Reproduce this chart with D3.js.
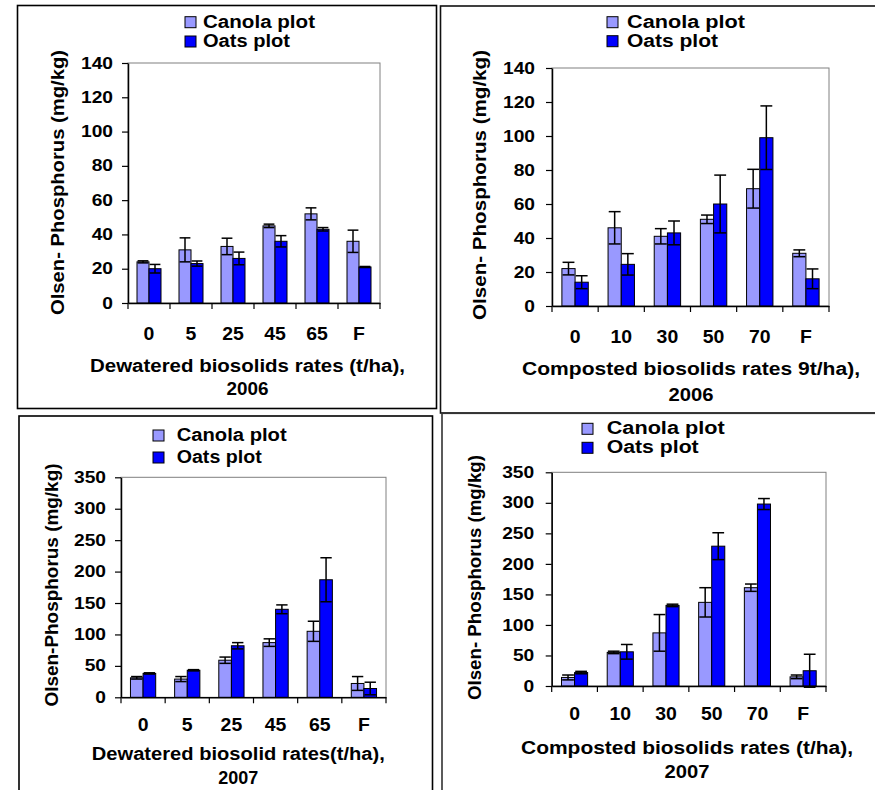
<!DOCTYPE html>
<html>
<head>
<meta charset="utf-8">
<script src="https://cdn.jsdelivr.net/npm/d3@7"></script>
<style>
  body { margin: 0; background: #fff; }
  svg { display: block; font-family: "Liberation Sans", Arial, sans-serif; font-weight: bold; }
</style>
</head>
<body>
<svg id="chart" width="875" height="790"></svg>
<script>
// DATA
const dewateredRates = ["0", "5", "25", "45", "65", "F"];
const compostedRates = ["0", "10", "30", "50", "70", "F"];
const seriesNames = ["Canola plot", "Oats plot"];

// dewatered 2006
const dew06Canola    = [24, 31, 33, 45, 52, 36];
const dew06CanolaErr = [0.6, 7, 4.8, 1, 3.5, 6.5];
const dew06Oats      = [20, 23, 26, 36, 43, 21];
const dew06OatsErr   = [2.5, 1.5, 3.7, 3.3, 1, 0.3];

// composted 2006
const com06Canola    = [22, 46, 41, 51, 69, 31];
const com06CanolaErr = [3.7, 9.5, 4.5, 2.5, 11.4, 2];
const com06Oats      = [14, 24.5, 43, 60, 99, 16];
const com06OatsErr   = [3.8, 6.3, 7, 17, 18.7, 5.8];

// dewatered 2007
const dew07Canola    = [31, 29, 59, 87, 105, 22];
const dew07CanolaErr = [2, 4, 5, 6, 16, 11];
const dew07Oats      = [38, 43, 82, 140, 187, 14];
const dew07OatsErr   = [1, 1, 5, 7, 35, 10];

// composted 2007
const com07Canola    = [14, 55, 87, 137, 161, 15];
const com07CanolaErr = [4, 2, 30, 24, 6, 3];
const com07Oats      = [22, 56, 132, 229, 298, 25];
const com07OatsErr   = [2, 12, 2, 22, 9, 27];

const colors = ["#9999ff", "#0000ff"];

// LAYOUT
const panels = [
  { cats: dewateredRates, vals: [dew06Canola, dew06Oats], errs: [dew06CanolaErr, dew06OatsErr],
    yMax: 140, yStep: 20, left: 128, right: 380, top: 63, bottom: 303, yPad: 9, xPad: 24,
    yTitle: "Olsen- Phosphorus (mg/kg)", yT: [64, 182.5, 265],
    xTitle: ["Dewatered biosolids rates (t/ha),", "2006"], xT: [247.5, 371.7, 315, 395, 42],
    leg: [185, 203, 27.7, 47, 112, 87] },
  { cats: compostedRates, vals: [com06Canola, com06Oats], errs: [com06CanolaErr, com06OatsErr],
    yMax: 140, yStep: 20, left: 552, right: 829, top: 68, bottom: 306, yPad: 11, xPad: 24.5,
    yTitle: "Olsen- Phosphorus (mg/kg)", yT: [485.5, 185, 270],
    xTitle: ["Composted biosolids rates 9t/ha),", "2006"], xT: [691, 375, 338, 401, 45],
    leg: [607, 627, 27.7, 46.7, 118, 91] },
  { cats: dewateredRates, vals: [dew07Canola, dew07Oats], errs: [dew07CanolaErr, dew07OatsErr],
    yMax: 350, yStep: 50, left: 121, right: 386, top: 477.3, bottom: 697.3, yPad: 9, xPad: 20.6,
    yTitle: "Olsen-Phosphorus (mg/kg)", yT: [58, 585, 243],
    xTitle: ["Dewatered biosolid rates(t/ha),", "2007"], xT: [238.3, 760, 293, 784.3, 40],
    leg: [153, 176.7, 441, 463, 110, 85] },
  { cats: compostedRates, vals: [com07Canola, com07Oats], errs: [com07CanolaErr, com07OatsErr],
    yMax: 350, yStep: 50, left: 551.7, right: 826, top: 472.3, bottom: 686, yPad: 11.5, xPad: 21.2,
    yTitle: "Olsen- Phosphorus (mg/kg)", yT: [481, 577.5, 245],
    xTitle: ["Composted biosolids rates (t/ha),", "2007"], xT: [687, 754.3, 332, 777.7, 45],
    leg: [582, 606.7, 434.3, 453.3, 118, 92] }
];

const svg = d3.select("#chart");

// panel frames
const frames = [
  [17.5, 5.5, 436.5, 408.5, "#000"],
  [440.5, 6, 880, 413, "#111"],
  [19, 416, 432.5, 800, "#000"],
  [442, 413.3, 880, 800, "#333"]
];
frames.forEach(f => {
  svg.append("rect")
    .attr("x", f[0]).attr("y", f[1])
    .attr("width", f[2] - f[0]).attr("height", f[3] - f[1])
    .attr("fill", "none").attr("stroke", f[4]).attr("stroke-width", 1.6);
});

function label(g, str, x, y, len, size, rot) {
  return g.append("text")
    .attr("transform", "translate(" + x + "," + y + ")" + (rot ? " rotate(" + rot + ")" : ""))
    .attr("text-anchor", "middle")
    .attr("font-size", size)
    .attr("textLength", len)
    .attr("lengthAdjust", "spacingAndGlyphs")
    .text(str);
}

function drawPanel(p) {
  const g = svg.append("g");
  const x = d3.scaleBand().domain(p.cats).range([p.left, p.right]);
  const y = d3.scaleLinear().domain([0, p.yMax]).range([p.bottom, p.top]);
  const w = x.bandwidth() / 3.5;

  // plot area frame
  g.append("rect")
    .attr("x", p.left).attr("y", p.top)
    .attr("width", p.right - p.left).attr("height", p.bottom - p.top)
    .attr("fill", "none").attr("stroke", "#808080").attr("stroke-width", 1);

  // bars
  p.vals.forEach((vals, s) => {
    const rows = p.cats.map((c, i) => ({ c: c, v: vals[i], e: p.errs[s][i] }));
    const off = s === 0 ? -w : 0;
    g.append("g").selectAll("rect").data(rows).enter().append("rect")
      .attr("x", d => x(d.c) + x.bandwidth() / 2 + off)
      .attr("y", d => y(d.v))
      .attr("width", w)
      .attr("height", d => y(0) - y(d.v))
      .attr("fill", colors[s])
      .attr("stroke", "#000").attr("stroke-width", 1);

    const eb = g.append("g").attr("stroke", "#000").attr("stroke-width", 1.5);
    rows.forEach(d => {
      const cx = x(d.c) + x.bandwidth() / 2 + off + w / 2;
      eb.append("line").attr("x1", cx).attr("x2", cx).attr("y1", y(d.v - d.e)).attr("y2", y(d.v + d.e));
      [d.v - d.e, d.v + d.e].forEach(v => {
        eb.append("line").attr("x1", cx - w * 0.45).attr("x2", cx + w * 0.45).attr("y1", y(v)).attr("y2", y(v));
      });
    });
  });

  // y axis
  const sxY = 1.2;
  g.append("g")
    .attr("transform", "translate(" + p.left + ",0)")
    .call(d3.axisLeft(y).tickValues(d3.range(0, p.yMax + 1, p.yStep)).tickSize(6).tickSizeOuter(0).tickPadding(p.yPad))
    .call(a => {
      a.attr("font-family", null).attr("font-size", null);
      a.select(".domain").attr("stroke", "#000").attr("stroke-width", 1.5);
      a.selectAll(".tick line").attr("stroke", "#000").attr("stroke-width", 1.2);
      a.selectAll(".tick text").attr("fill", "#000").attr("font-size", 16)
        .attr("x", -(6 + p.yPad) / sxY).attr("transform", "scale(" + sxY + ",1)");
    });

  // x axis
  const sxX = 1.08;
  g.append("g")
    .attr("transform", "translate(0," + p.bottom + ")")
    .call(d3.axisBottom(x).tickSize(0).tickSizeOuter(0).tickPadding(p.xPad))
    .call(a => {
      a.attr("font-family", null).attr("font-size", null);
      a.select(".domain").attr("stroke", "#000").attr("stroke-width", 1.5);
      a.selectAll(".tick text").attr("fill", "#000").attr("font-size", 18).attr("transform", "scale(" + sxX + ",1)");
    });
  const bounds = p.cats.map(c => x(c)).concat([x.range()[1]]);
  g.append("g").selectAll("line").data(bounds).enter().append("line")
    .attr("x1", d => d).attr("x2", d => d)
    .attr("y1", p.bottom).attr("y2", p.bottom + 6)
    .attr("stroke", "#000").attr("stroke-width", 1.2);

  // titles
  label(g, p.yTitle, p.yT[0], p.yT[1], p.yT[2], 18, -90);
  label(g, p.xTitle[0], p.xT[0], p.xT[1], p.xT[2], 18);
  label(g, p.xTitle[1], p.xT[0], p.xT[3], p.xT[4], 18);

  // legend
  seriesNames.forEach((name, s) => {
    const base = p.leg[2 + s];
    g.append("rect")
      .attr("x", p.leg[0]).attr("y", base - 11)
      .attr("width", 11).attr("height", 11)
      .attr("fill", colors[s]).attr("stroke", "#000").attr("stroke-width", 1);
    g.append("text")
      .attr("x", p.leg[1]).attr("y", base)
      .attr("font-size", 18)
      .attr("textLength", p.leg[4 + s])
      .attr("lengthAdjust", "spacingAndGlyphs")
      .text(name);
  });
}

panels.forEach(drawPanel);
</script>
</body>
</html>
